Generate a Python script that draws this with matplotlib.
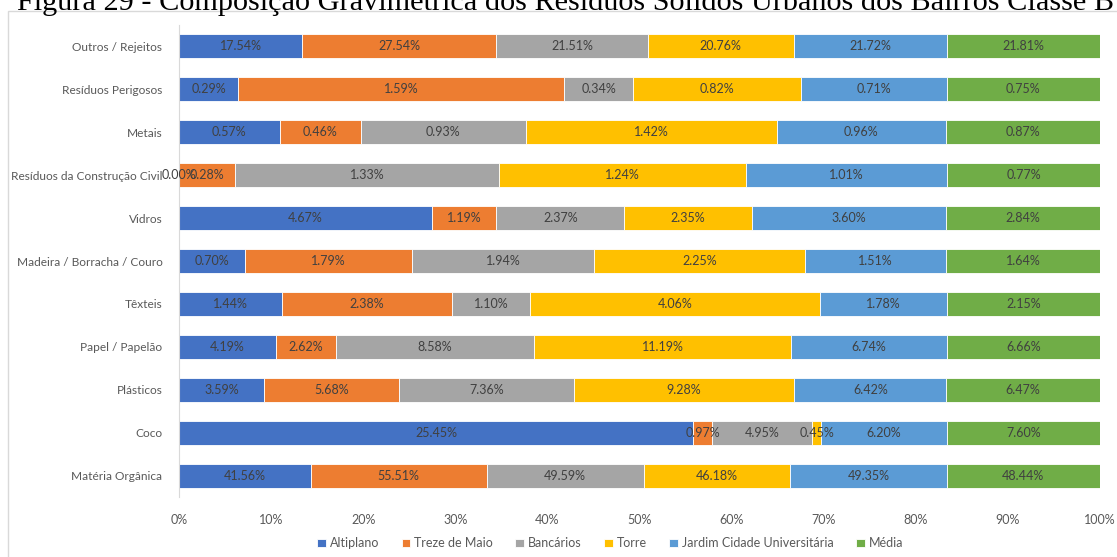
import numpy as np
import matplotlib
matplotlib.use('Agg')
import matplotlib.pyplot as plt
from matplotlib.patches import Rectangle

categories = ['Outros / Rejeitos', 'Resíduos Perigosos', 'Metais',
              'Resíduos da Construção Civil', 'Vidros', 'Madeira / Borracha / Couro',
              'Têxteis', 'Papel / Papelão', 'Plásticos', 'Coco', 'Matéria Orgânica']

series_names = ['Altiplano', 'Treze de Maio', 'Bancários', 'Torre',
                'Jardim Cidade Universitária', 'Média']

altiplano = [17.54, 0.29, 0.57, 0.00, 4.67, 0.70, 1.44, 4.19, 3.59, 25.45, 41.56]
treze_de_maio = [27.54, 1.59, 0.46, 0.28, 1.19, 1.79, 2.38, 2.62, 5.68, 0.97, 55.51]
bancarios = [21.51, 0.34, 0.93, 1.33, 2.37, 1.94, 1.10, 8.58, 7.36, 4.95, 49.59]
torre = [20.76, 0.82, 1.42, 1.24, 2.35, 2.25, 4.06, 11.19, 9.28, 0.45, 46.18]
jardim = [21.72, 0.71, 0.96, 1.01, 3.60, 1.51, 1.78, 6.74, 6.42, 6.20, 49.35]
media = [21.81, 0.75, 0.87, 0.77, 2.84, 1.64, 2.15, 6.66, 6.47, 7.60, 48.44]

colors = ['#4472C4', '#ED7D31', '#A5A5A5', '#FFC000', '#5B9BD5', '#70AD47']

plt.rcParams['font.family'] = ['Lato', 'DejaVu Sans']

values = np.array([altiplano, treze_de_maio, bancarios, torre, jardim, media])
totals = values.sum(axis=0)
shares = values / totals * 100

fig = plt.figure(figsize=(11.17, 5.57), dpi=100)
ax = fig.add_axes([0.1603, 0.1077, 0.8245, 0.8474])

y = np.arange(len(categories))
left = np.zeros(len(categories))
for i, name in enumerate(series_names):
    ax.barh(y, shares[i], left=left, height=0.56, color=colors[i],
            edgecolor='white', linewidth=0.6, label=name)
    for j in range(len(categories)):
        ax.text(left[j] + shares[i, j] / 2, y[j], f'{values[i, j]:.2f}%',
                ha='center', va='center', fontsize=9, color='#404040')
    left += shares[i]

ax.set_xlim(0, 100)
ax.set_ylim(len(categories) - 0.5, -0.5)
ax.set_xticks(np.arange(0, 101, 10))
ax.set_xticklabels([f'{t}%' for t in range(0, 101, 10)])
ax.set_yticks(y)
ax.set_yticklabels(categories)
ax.tick_params(axis='both', length=0, labelsize=9, colors='#595959')
ax.tick_params(axis='y', labelsize=8.6, pad=12)
ax.tick_params(axis='x', pad=12)
for s in ['top', 'right', 'bottom']:
    ax.spines[s].set_visible(False)
ax.spines['left'].set_color('#D9D9D9')

ax.legend(loc='center', bbox_to_anchor=(0.468, -0.098),
          ncol=6, frameon=False, fontsize=9, handlelength=0.7, handleheight=0.7,
          handletextpad=0.3, columnspacing=1.8, labelcolor='#595959')

# moldura do gráfico e título recortado
fig.add_artist(Rectangle((8 / 1117, -0.2), 1.2, 1.2 - 11 / 557,
                         transform=fig.transFigure, fill=False,
                         edgecolor='#D9D9D9', linewidth=1.0))
fig.text(0.015, 1 - 10 / 557, 'Figura 29 - Composição Gravimétrica dos Resíduos Sólidos Urbanos dos Bairros Classe B',
         fontsize=21.8, family='Liberation Serif', va='baseline', ha='left', color='black')

fig.savefig('out.png', dpi=100)
